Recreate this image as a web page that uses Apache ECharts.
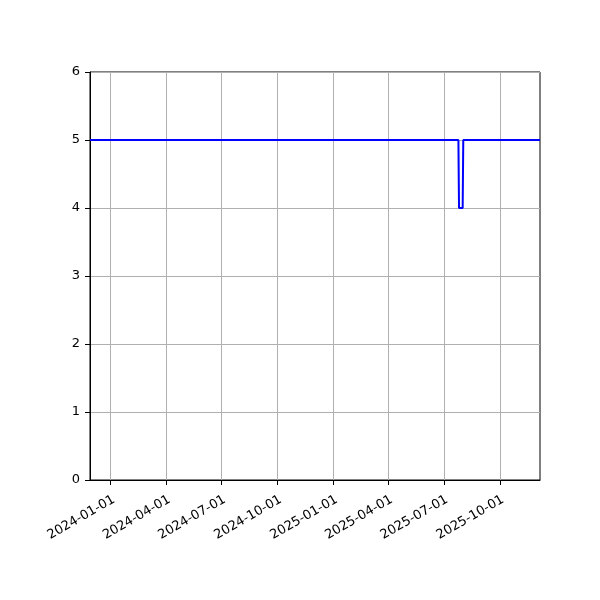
<!DOCTYPE html>
<html><head><meta charset="utf-8">
<script src="https://cdn.jsdelivr.net/npm/echarts@6/dist/echarts.min.js"></script>
<style>html,body{margin:0;padding:0;background:#fff}#c{width:600px;height:600px}</style>
</head><body><div id="c"></div>
<script>
// change points of the series (date, value); the series spans the whole x range
const dates = ['2023-11-28','2025-07-25','2025-07-26','2025-08-01','2025-08-02','2025-12-06'];
const values = [5, 5, 4, 4, 5, 5];
const xTickLabels = ['2024-01-01','2024-04-01','2024-07-01','2024-10-01','2025-01-01','2025-04-01','2025-07-01','2025-10-01'];
const yTicks = [0,1,2,3,4,5,6];

const ts = s => { const p = s.split('-').map(Number); return Date.UTC(p[0], p[1]-1, p[2]); };
const dataMin = ts(dates[0]), dataMax = ts(dates[dates.length-1]);
const fmt = v => { const d = new Date(v); const z = n => String(n).padStart(2,'0'); return d.getUTCFullYear()+'-'+z(d.getUTCMonth()+1)+'-'+z(d.getUTCDate()); };
const xTickVals = xTickLabels.map(ts);

const chart = echarts.init(document.getElementById('c'));
chart.setOption({
  animation: false,
  grid: { left: 90, right: 60, top: 72, bottom: 120, show: true, borderColor: '#000', borderWidth: 1, backgroundColor: 'transparent' },
  xAxis: {
    type: 'value',
    min: dataMin, max: dataMax,
    axisLine: { show: true, onZero: false, lineStyle: { color: '#000', width: 1 } },
    axisTick: { show: true, length: 5, lineStyle: { color: '#000' }, customValues: xTickVals },
    axisLabel: { customValues: xTickVals, formatter: v => fmt(v), rotate: 30, align: 'right', verticalAlign: 'top', color: '#000', fontSize: 13, fontFamily: 'DejaVu Sans', margin: 13, hideOverlap: false },
    splitLine: { show: true, lineStyle: { color: '#b0b0b0', width: 1 } }
  },
  yAxis: {
    type: 'value', min: yTicks[0], max: yTicks[yTicks.length-1], interval: 1,
    axisLine: { show: true, lineStyle: { color: '#000', width: 1 } },
    axisTick: { show: true, length: 5, lineStyle: { color: '#000' } },
    axisLabel: { color: '#000', fontSize: 13, fontFamily: 'DejaVu Sans', margin: 10 },
    splitLine: { show: true, lineStyle: { color: '#b0b0b0', width: 1 } }
  },
  series: [{
    type: 'line', showSymbol: false, symbol: 'none',
    data: dates.map((d,i) => [ts(d), values[i]]),
    lineStyle: { color: '#0000ff', width: 2 }
  }]
});
</script></body></html>
